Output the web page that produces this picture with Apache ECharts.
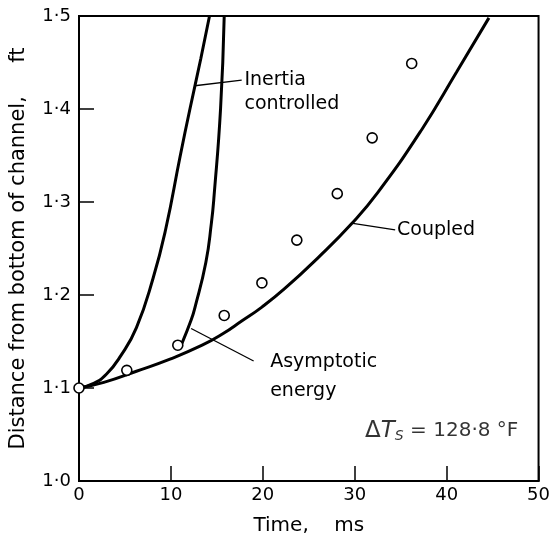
<!DOCTYPE html>
<html>
<head>
<meta charset="utf-8">
<script src="https://cdn.jsdelivr.net/npm/echarts@6/dist/echarts.min.js"></script>
<style>html,body{margin:0;padding:0;background:#fff;}#c{width:553px;height:541px;}</style>
</head>
<body>
<div id="c"></div>
<script>
// ---- data (time in ms, distance in ft) ----
var inertiaTime = [0, 1.6, 3.0, 4.5, 6.25, 8.06, 9.46, 11.0, 12.07, 13.25, 14.2];
var inertiaDist = [1.1, 1.105, 1.115, 1.134, 1.165, 1.218, 1.272, 1.349, 1.4, 1.454, 1.5];

var asymTime = [11.2, 12.2, 12.6, 13.8, 14.4, 14.7, 15.4, 15.8];
var asymDist = [1.148, 1.173, 1.186, 1.235, 1.277, 1.307, 1.4, 1.5];

var coupledTime = [0, 2.7, 6.25, 9.9, 13.4, 15.6, 17.7, 19.9, 22.4, 26, 29.6, 32.5, 37.3, 41.1, 44.6];
var coupledDist = [1.1, 1.106, 1.118, 1.131, 1.146, 1.158, 1.172, 1.187, 1.207, 1.24, 1.276, 1.31, 1.378, 1.44, 1.498];

var expTime = [0, 5.2, 10.75, 15.8, 19.9, 23.7, 28.1, 31.9, 36.2];
var expDist = [1.1, 1.119, 1.146, 1.178, 1.213, 1.259, 1.309, 1.369, 1.449];

var xTickValues = [0, 10, 20, 30, 40, 50];
var xTickLabels = ['0', '10', '20', '30', '40', '50'];
var yTickValues = [1.0, 1.1, 1.2, 1.3, 1.4, 1.5];
var yTickLabels = ['1·0', '1·1', '1·2', '1·3', '1·4', '1·5'];

// annotation leader lines [time, dist] pairs
var inertiaLeader = [[12.6, 1.425], [17.7, 1.431]];
var coupledLeader = [[29.8, 1.277], [34.4, 1.27]];
var asymLeader = [[12.2, 1.164], [19.0, 1.129]];

// annotation texts [time, dist, text]
var leftTexts = [
  [18.0, 1.431, 'Inertia'],
  [18.0, 1.405, 'controlled'],
  [34.6, 1.27, 'Coupled'],
  [20.8, 1.128, 'Asymptotic'],
  [20.8, 1.097, 'energy']
];
var deltaLabel = [47.8, 1.054];

function zip(a, b) { return a.map(function (v, i) { return [v, b[i]]; }); }
function lookup(vals, labels, v) {
  for (var i = 0; i < vals.length; i++) if (Math.abs(vals[i] - v) < 1e-6) return labels[i];
  return '';
}

var FONT = 'DejaVu Sans';
var curveStyle = { color: '#000', width: 3 };
var chart = echarts.init(document.getElementById('c'), null, { renderer: 'canvas' });

var series = [
  { type: 'line', data: zip(inertiaTime, inertiaDist), smooth: 0.5, symbol: 'none', lineStyle: curveStyle, z: 3 },
  { type: 'line', data: zip(asymTime, asymDist), smooth: 0.5, symbol: 'none', lineStyle: curveStyle, z: 3 },
  { type: 'line', data: zip(coupledTime, coupledDist), smooth: 0.5, symbol: 'none', lineStyle: curveStyle, z: 3 },
  { type: 'line', data: inertiaLeader, symbol: 'none', lineStyle: { color: '#000', width: 1.3 }, z: 2 },
  { type: 'line', data: coupledLeader, symbol: 'none', lineStyle: { color: '#000', width: 1.3 }, z: 2 },
  { type: 'line', data: asymLeader, symbol: 'none', lineStyle: { color: '#000', width: 1.3 }, z: 2 },
  { type: 'scatter', data: zip(expTime, expDist), symbol: 'circle', symbolSize: 10, clip: false,
    itemStyle: { color: '#fff', borderColor: '#000', borderWidth: 1.6, opacity: 1 }, z: 5 },
  { type: 'scatter', data: leftTexts.map(function (t) { return [t[0], t[1], t[2]]; }),
    symbolSize: 0, z: 6,
    label: { show: true, position: 'right', distance: 0, color: '#000', opacity: 1, fontFamily: FONT, fontSize: 19,
      textBorderWidth: 0,
      formatter: function (p) { return p.data[2]; } } },
  { type: 'scatter', data: [deltaLabel], symbolSize: 0, z: 6,
    label: { show: true, position: 'left', distance: 0, color: '#000', fontFamily: FONT,
      formatter: '{d|Δ}{t|T}{s|S}{n| = 128·8 °F}',
      rich: {
        d: { fontFamily: FONT, fontSize: 23, color: '#000' },
        t: { fontFamily: FONT, fontSize: 23, fontStyle: 'italic', color: '#000' },
        s: { fontFamily: FONT, fontSize: 14, fontStyle: 'italic', color: '#000', verticalAlign: 'bottom', padding: [12, 0, 0, 0] },
        n: { fontFamily: FONT, fontSize: 20, color: '#000' }
      } } }
];

chart.setOption({
  animation: false,
  backgroundColor: '#fff',
  grid: { left: 75, right: 13, top: 16, bottom: 58, show: true, borderColor: '#000', borderWidth: 2, backgroundColor: 'transparent' },
  xAxis: {
    type: 'value', min: 0, max: 50, interval: 10,
    name: 'Time,    ms', nameLocation: 'middle', nameGap: 35,
    nameTextStyle: { fontFamily: FONT, fontSize: 20, color: '#000' },
    axisLine: { show: true, lineStyle: { color: '#000', width: 2 } },
    axisTick: { show: true, inside: true, length: 15, lineStyle: { color: '#000', width: 1.5 } },
    axisLabel: { fontFamily: FONT, fontSize: 18, color: '#000', margin: 5,
      formatter: function (v) { return lookup(xTickValues, xTickLabels, v); } },
    splitLine: { show: false }
  },
  yAxis: {
    type: 'value', min: 1.0, max: 1.5, interval: 0.1,
    name: 'Distance from bottom of channel,     ft', nameLocation: 'middle', nameGap: 50,
    nameTextStyle: { fontFamily: FONT, fontSize: 21, color: '#000' },
    axisLine: { show: true, lineStyle: { color: '#000', width: 2 } },
    axisTick: { show: true, inside: true, length: 15, lineStyle: { color: '#000', width: 1.5 } },
    axisLabel: { fontFamily: FONT, fontSize: 18, color: '#000', margin: 8,
      formatter: function (v) { return lookup(yTickValues, yTickLabels, v); } },
    splitLine: { show: false }
  },
  series: series
});
</script>
</body>
</html>
